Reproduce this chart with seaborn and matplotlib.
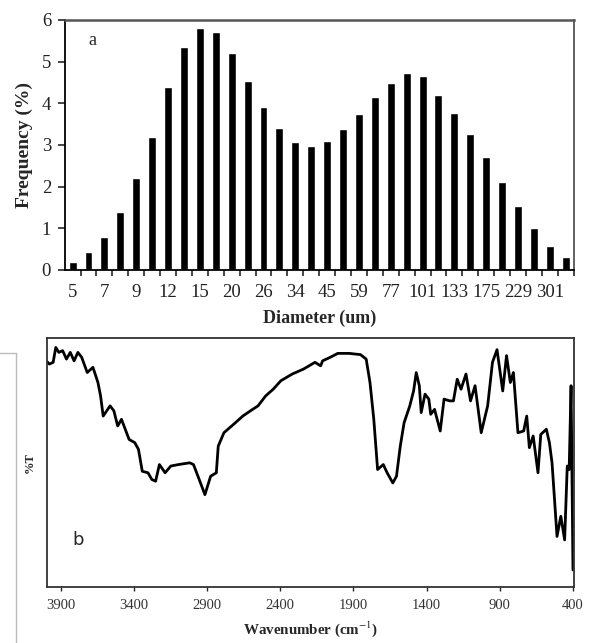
import numpy as np
import matplotlib
matplotlib.use("Agg")
import matplotlib.pyplot as plt
import seaborn as sns
from matplotlib.lines import Line2D
from matplotlib.ticker import FixedLocator

# ---------------- data ----------------
diameter_labels = ["5", "7", "9", "12", "15", "20", "26", "34", "45", "59",
                   "77", "101", "133", "175", "229", "301"]
frequency = [0.2, 0.43, 0.8, 1.4, 2.2, 3.2, 4.4, 5.35, 5.8, 5.72, 5.2, 4.53,
             3.9, 3.4, 3.08, 2.97, 3.1, 3.38, 3.75, 4.15, 4.48, 4.72, 4.65,
             4.2, 3.77, 3.27, 2.72, 2.1, 1.53, 1.0, 0.57, 0.32]
y_ticks_a = [0, 1, 2, 3, 4, 5, 6]

wavenumber = [3999, 3978, 3952, 3934, 3913, 3887, 3861, 3835, 3809, 3783,
              3757, 3719, 3680, 3646, 3628, 3610, 3563, 3537, 3511, 3485,
              3433, 3394, 3369, 3343, 3304, 3278, 3252, 3226, 3187, 3148,
              3096, 3019, 2993, 2954, 2915, 2876, 2837, 2824, 2785, 2707,
              2656, 2604, 2552, 2500, 2448, 2396, 2318, 2241, 2163, 2124,
              2111, 2059, 2007, 1930, 1852, 1813, 1787, 1761, 1735, 1696,
              1670, 1631, 1606, 1580, 1554, 1515, 1489, 1471, 1450, 1437,
              1411, 1385, 1372, 1346, 1307, 1281, 1242, 1217, 1191, 1165,
              1131, 1100, 1069, 1027, 983, 950, 919, 880, 854, 828,
              807, 776, 737, 716, 698, 672, 639, 620, 582, 561,
              543, 509, 483, 457, 439, 426, 413, 400]
transmittance = [90.8, 89.5, 90.2, 96.2, 94.2, 94.9, 91.5, 94.2, 90.8, 94.2,
                 92.2, 86.1, 88.2, 82.1, 76.7, 68.6, 72.7, 70.7, 64.6, 67.3,
                 59.2, 57.9, 55.2, 46.4, 45.8, 43.1, 42.4, 49.1, 45.8, 48.5,
                 49.1, 49.8, 49.1, 43.1, 37.0, 44.4, 45.8, 56.5, 61.9, 65.9,
                 68.6, 70.7, 72.7, 76.7, 79.4, 82.8, 85.5, 87.5, 90.2, 88.8,
                 90.8, 92.2, 93.8, 93.8, 93.3, 91.5, 82.1, 67.3, 47.1, 49.1,
                 45.8, 41.7, 44.4, 56.5, 65.9, 72.7, 78.7, 86.1, 80.8, 70.0,
                 77.4, 75.4, 69.3, 71.3, 62.6, 75.4, 74.7, 74.7, 83.4, 79.4,
                 85.5, 74.7, 80.8, 61.9, 72.7, 90.2, 95.3, 78.7, 92.9, 82.1,
                 86.1, 61.9, 62.6, 68.6, 55.9, 60.6, 45.8, 61.2, 63.3, 57.9,
                 49.8, 20.2, 28.3, 18.8, 48.5, 47.1, 80.8, 6.7]
wn_ticks = [3900, 3400, 2900, 2400, 1900, 1400, 900, 400]

# ---------------- style ----------------
sns.set_style("ticks")
plt.rcParams['font.family'] = ['Liberation Serif', 'DejaVu Serif']
plt.rcParams['mathtext.fontset'] = 'stix'

fig = plt.figure(figsize=(5.95, 6.43), dpi=100)

# ---------------- panel a ----------------
ax1 = fig.add_axes([0.1092, 0.5801, 0.8555, 0.3888])
bins = list(range(len(frequency)))
sns.barplot(x=bins, y=frequency, color="black", saturation=1, width=0.5,
            ax=ax1, errorbar=None)
ax1.set_xlim(-0.48, len(frequency) - 0.48)
ax1.set_ylim(0, 6)
ax1.set_yticks(y_ticks_a)
ax1.set_yticklabels([str(v) for v in y_ticks_a], fontsize=13.5, color='#222222')
ax1.xaxis.set_major_locator(FixedLocator(bins[::2]))
ax1.set_xticklabels(diameter_labels, fontsize=13.5, color='#222222')
ax1.xaxis.set_minor_locator(FixedLocator([b - 0.5 for b in bins] + [bins[-1] + 0.5]))
ax1.tick_params(axis='x', which='major', length=0, pad=10)
ax1.tick_params(axis='x', which='minor', length=4, width=1.2, direction='out')
ax1.tick_params(axis='y', length=5, width=1.2, direction='out', pad=5)
for s in ax1.spines.values():
    s.set_visible(True)
    s.set_linewidth(1.3)
    s.set_color('black')
ax1.spines['top'].set_color('#555555')
ax1.spines['top'].set_linewidth(1.8)
ax1.spines['right'].set_color('#555555')
ax1.set_ylabel("Frequency (%)", fontsize=14, fontweight='bold', labelpad=6)
ax1.set_xlabel("Diameter (um)", fontsize=13, fontweight='bold', labelpad=6)
ax1.text(0.045, 0.9, "a", transform=ax1.transAxes, fontsize=13)

# ---------------- panel b ----------------
ax2 = fig.add_axes([0.0785, 0.0876, 0.8862, 0.3868])
sns.lineplot(x=wavenumber, y=transmittance, ax=ax2, color="black",
             linewidth=2.0, sort=False, estimator=None)
ax2.set_xlim(3996, 393)
ax2.set_ylim(0, 100)
ax2.set_xticks(wn_ticks)
ax2.set_xticklabels([str(v) for v in wn_ticks], fontsize=10.5, color='#333333')
ax2.set_yticks([])
ax2.tick_params(axis='x', length=3, width=1, direction='out', pad=6)
for s in ax2.spines.values():
    s.set_visible(True)
    s.set_linewidth(1.3)
    s.set_color('#333333')
ax2.set_ylabel("%T", fontsize=9, fontweight='bold', labelpad=8)
ax2.set_xlabel("Wavenumber (cm$^{-1}$)", fontsize=10.8, fontweight='bold', labelpad=5)
ax2.text(0.059, 0.188, "b", transform=ax2.transAxes, fontsize=13,
         family=['DejaVu Sans'], va='center', ha='center')

# page-border artifact on the left
fig.add_artist(Line2D([0, 16 / 595], [1 - 353 / 643, 1 - 353 / 643],
                      transform=fig.transFigure, color='#bbbbbb', lw=1))
fig.add_artist(Line2D([16 / 595, 16 / 595], [1 - 353 / 643, 0],
                      transform=fig.transFigure, color='#bbbbbb', lw=1))

fig.savefig("out.png", dpi=100)
